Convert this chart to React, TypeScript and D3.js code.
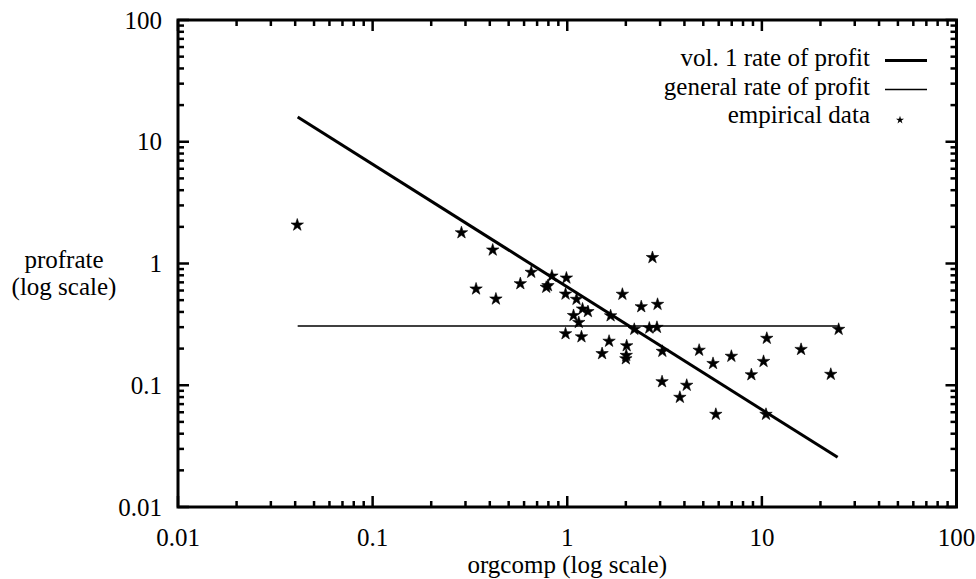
import React from "react";
import * as d3 from "d3";

const xTicks = [0.01, 0.1, 1, 10, 100];
const yTicks = [0.01, 0.1, 1, 10, 100];
const xTickLabels = ["0.01", "0.1", "1", "10", "100"];
const yTickLabels = ["0.01", "0.1", "1", "10", "100"];

const vol1X = [0.0412, 24.5];
const vol1Y = [15.95, 0.0256];
const generalX = [0.0412, 24.5];
const generalY = [0.306, 0.306];

const empX = [0.041, 0.286, 0.414, 0.653, 0.834, 0.99, 0.34, 0.574, 0.78, 0.796, 0.43, 0.98, 1.116, 1.198, 1.277, 1.077, 1.146, 0.98, 1.183,
  2.74, 1.92, 2.4, 2.91, 1.67, 2.21, 2.64, 2.89, 1.64, 2.02, 1.51, 2.01, 2.0, 3.08, 4.76, 5.61, 6.97, 10.6, 15.9, 10.2, 8.83, 22.6, 24.8,
  3.07, 4.11, 3.79, 5.8, 10.5];
const empY = [2.07, 1.79, 1.29, 0.847, 0.789, 0.76, 0.618, 0.683, 0.638, 0.658, 0.511, 0.561, 0.508, 0.423, 0.403, 0.374, 0.328, 0.265, 0.25,
  1.12, 0.559, 0.442, 0.462, 0.372, 0.288, 0.295, 0.299, 0.23, 0.211, 0.182, 0.176, 0.165, 0.19, 0.194, 0.151, 0.173, 0.243, 0.197, 0.157, 0.122, 0.123, 0.288,
  0.107, 0.1, 0.0796, 0.0577, 0.0577];

const legendLabels = ["vol. 1 rate of profit", "general rate of profit", "empirical data"];

const L = 178, R = 956.5, T = 20, B = 507;
const FONT = "\"Liberation Serif\", \"DejaVu Serif\", \"Noto Serif\", \"Nimbus Roman\", FreeSerif, Tinos, Times, serif";
const FS = 25;

export default function App() {
  const x = d3.scaleLog().domain([0.01, 100]).range([L, R]);
  const y = d3.scaleLog().domain([0.01, 100]).range([B, T]);

  const minorX: number[] = [];
  const minorY: number[] = [];
  for (let e = -2; e < 2; e++) {
    for (let m = 2; m <= 9; m++) {
      minorX.push(m * Math.pow(10, e));
      minorY.push(m * Math.pow(10, e));
    }
  }

  const line = d3.line<[number, number]>().x((d) => x(d[0])).y((d) => y(d[1]));
  const vol1 = line(vol1X.map((v, i) => [v, vol1Y[i]] as [number, number])) || "";
  const general = line(generalX.map((v, i) => [v, generalY[i]] as [number, number])) || "";
  const star = d3.symbol().type(d3.symbolStar).size(48)() || "";
  const starSmall = d3.symbol().type(d3.symbolStar).size(20)() || "";

  const major = 11, minor = 6;
  const textStyle: React.CSSProperties = { fontFamily: FONT, fontSize: FS };

  return (
    <svg width={976} height={579} style={{ position: "absolute", left: 0, top: 0, background: "#fff" }}>
      <rect x={0} y={0} width={976} height={579} fill="#fff" />
      <path d={vol1} stroke="#000" strokeWidth={3} fill="none" />
      <path d={general} stroke="#000" strokeWidth={1.5} fill="none" />
      {empX.map((v, i) => (
        <path key={i} d={star} transform={`translate(${x(v)},${y(empY[i])})`} fill="#000" stroke="#000" strokeWidth={0.6} />
      ))}
      <g stroke="#000" strokeWidth={2.5}>
        {xTicks.map((t, i) => (
          <g key={"xt" + i}>
            <line x1={x(t)} x2={x(t)} y1={B} y2={B - major} />
            <line x1={x(t)} x2={x(t)} y1={T} y2={T + major} />
          </g>
        ))}
        {minorX.map((t, i) => (
          <g key={"xm" + i}>
            <line x1={x(t)} x2={x(t)} y1={B} y2={B - minor} />
            <line x1={x(t)} x2={x(t)} y1={T} y2={T + minor} />
          </g>
        ))}
        {yTicks.map((t, i) => (
          <g key={"yt" + i}>
            <line x1={L} x2={L + major} y1={y(t)} y2={y(t)} />
            <line x1={R} x2={R - major} y1={y(t)} y2={y(t)} />
          </g>
        ))}
        {minorY.map((t, i) => (
          <g key={"ym" + i}>
            <line x1={L} x2={L + minor} y1={y(t)} y2={y(t)} />
            <line x1={R} x2={R - minor} y1={y(t)} y2={y(t)} />
          </g>
        ))}
      </g>
      <rect x={L} y={T} width={R - L} height={B - T} fill="none" stroke="#000" strokeWidth={3} />
      <g style={textStyle} fill="#000">
        {xTicks.map((t, i) => (
          <text key={"xl" + i} x={x(t)} y={546} textAnchor="middle">{xTickLabels[i]}</text>
        ))}
        {yTicks.map((t, i) => (
          <text key={"yl" + i} x={162} y={y(t)} dy="0.34em" textAnchor="end">{yTickLabels[i]}</text>
        ))}
        <text x={(L + R) / 2} y={573} textAnchor="middle">orgcomp (log scale)</text>
        <text x={64} y={268} textAnchor="middle">profrate</text>
        <text x={64} y={295} textAnchor="middle">(log scale)</text>
        {legendLabels.map((s, i) => (
          <text key={"lg" + i} x={870} y={66 + i * 28.5} textAnchor="end">{s}</text>
        ))}
      </g>
      <line x1={885} x2={927} y1={60.5} y2={60.5} stroke="#000" strokeWidth={3} />
      <line x1={885} x2={927} y1={89.5} y2={89.5} stroke="#000" strokeWidth={1.5} />
      <path d={starSmall} transform="translate(900,120)" fill="#000" />
    </svg>
  );
}
